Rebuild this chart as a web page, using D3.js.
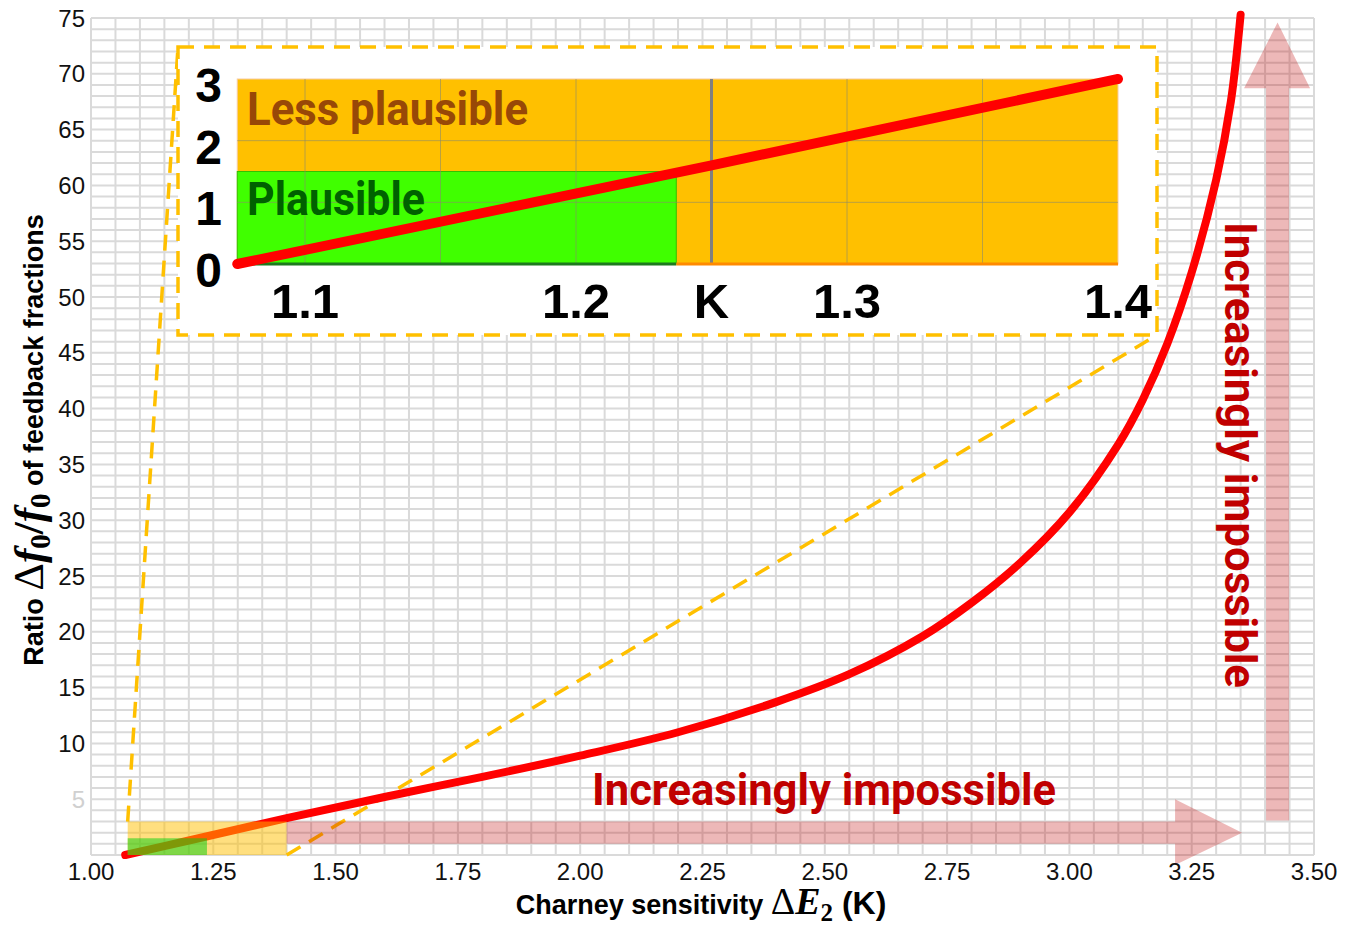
<!DOCTYPE html>
<html>
<head>
<meta charset="utf-8">
<script src="https://cdn.jsdelivr.net/npm/d3@7"></script>
<style>
  html, body { margin: 0; padding: 0; background: #fff; }
  svg { display: block; }
</style>
</head>
<body>
<svg id="chart" width="1354" height="930"></svg>
<script>
// ── Data ──────────────────────────────────────────────────────────────────────
const xTicks = [1.00, 1.25, 1.50, 1.75, 2.00, 2.25, 2.50, 2.75, 3.00, 3.25, 3.50];
const xTickLabels = ["1.00", "1.25", "1.50", "1.75", "2.00", "2.25", "2.50", "2.75", "3.00", "3.25", "3.50"];
const yTicks = [5, 10, 15, 20, 25, 30, 35, 40, 45, 50, 55, 60, 65, 70, 75];

// ratio curve vs Charney sensitivity
const curveX = [1.07, 1.20, 1.40, 1.60, 1.80, 2.00, 2.20, 2.40, 2.55, 2.70, 2.80, 2.90, 3.00, 3.10, 3.15, 3.20, 3.25, 3.30, 3.33, 3.35];
const curveY = [0.0, 1.3, 3.3, 5.2, 7.0, 8.9, 11.0, 13.7, 16.2, 19.6, 22.6, 26.2, 30.7, 36.8, 40.8, 45.8, 52.2, 60.5, 67.5, 75.3];

// zoomed inset
const insetX = [1.075, 1.25, 1.40];
const insetY = [0.0, 1.6, 3.0];
const insetTicks = [1.1, 1.2, 1.25, 1.3, 1.4];
const insetTickLabels = ["1.1", "1.2", "K", "1.3", "1.4"];
const insetYTicks = [0, 1, 2, 3];
const insetGridX = [1.1, 1.15, 1.2, 1.3, 1.35];
const insetGridY = [1, 2];

// plausibility zones [x0, x1, y0, y1]
const lessPlausible = [1.075, 1.40, 0, 3];
const plausible = [1.075, 1.237, 0, 1.5];
const kValue = 1.25;

// ── Layout ────────────────────────────────────────────────────────────────────
const svg = d3.select("#chart");
const x = d3.scaleLinear().domain([1, 3.5]).range([91, 1314]);
const y = d3.scaleLinear().domain([0, 75]).range([855, 18]);
const xi = d3.scaleLinear().domain([1.1, 1.4]).range([305, 1118]);
const yi = d3.scaleLinear().domain([0, 3]).range([264, 79]);
const insetBox = { x0: 178, y0: 47, x1: 1157, y1: 335 };

const SANS = "'Liberation Sans', Arial, sans-serif";
const SERIF = "'Liberation Serif', 'DejaVu Serif', serif";
const ORANGE = "#ffc000";
const DARKRED = "#c00000";

svg.append("rect").attr("width", 1354).attr("height", 930).attr("fill", "#fff");

// ── Grid ──────────────────────────────────────────────────────────────────────
const grid = svg.append("g").attr("stroke", "#dadada").attr("stroke-width", 2);
grid.selectAll("line.v").data(d3.range(0, 51).map(i => 1 + i * 0.05)).join("line")
  .attr("x1", d => x(d)).attr("x2", d => x(d)).attr("y1", y(0)).attr("y2", y(75));
grid.selectAll("line.h").data(d3.range(0, 76)).join("line")
  .attr("y1", d => y(d)).attr("y2", d => y(d)).attr("x1", x(1)).attr("x2", x(3.5));

// ── Connectors from zoom box to inset ─────────────────────────────────────────
const conn = svg.append("g").attr("stroke", ORANGE).attr("stroke-width", 3.5)
  .attr("stroke-dasharray", "16,10").attr("fill", "none");
conn.append("line")
  .attr("x1", x(lessPlausible[0])).attr("y1", y(lessPlausible[3]))
  .attr("x2", insetBox.x0).attr("y2", insetBox.y0);
conn.append("line")
  .attr("x1", x(lessPlausible[1])).attr("y1", y(lessPlausible[2]))
  .attr("x2", insetBox.x1).attr("y2", insetBox.y1);

// ── Main curve ────────────────────────────────────────────────────────────────
const curveData = curveX.map((v, i) => [v, curveY[i]]);
svg.append("path").datum(curveData)
  .attr("fill", "none").attr("stroke", "#ff0000").attr("stroke-width", 8)
  .attr("stroke-linecap", "round").attr("stroke-linejoin", "round")
  .attr("d", d3.line().x(d => x(d[0])).y(d => y(d[1])).curve(d3.curveCatmullRom.alpha(0.5)));

// ── Inset ─────────────────────────────────────────────────────────────────────
const inset = svg.append("g");
inset.append("rect")
  .attr("x", insetBox.x0).attr("y", insetBox.y0)
  .attr("width", insetBox.x1 - insetBox.x0).attr("height", insetBox.y1 - insetBox.y0)
  .attr("fill", "#fff").attr("stroke", ORANGE).attr("stroke-width", 3.5)
  .attr("stroke-dasharray", "16,10");

inset.append("rect")
  .attr("x", xi(lessPlausible[0])).attr("y", yi(lessPlausible[3]))
  .attr("width", xi(lessPlausible[1]) - xi(lessPlausible[0]))
  .attr("height", yi(lessPlausible[2]) - yi(lessPlausible[3]))
  .attr("fill", ORANGE).attr("stroke", "#f8cba0").attr("stroke-width", 1);
inset.append("rect")
  .attr("x", xi(plausible[0])).attr("y", yi(plausible[3]))
  .attr("width", xi(plausible[1]) - xi(plausible[0]))
  .attr("height", yi(plausible[2]) - yi(plausible[3]))
  .attr("fill", "#40ff00").attr("stroke", "#33c000").attr("stroke-width", 1);

const ig = inset.append("g").attr("stroke", "#8a8a6a").attr("stroke-opacity", 0.6).attr("stroke-width", 1);
ig.selectAll("line.v").data(insetGridX).join("line")
  .attr("x1", d => xi(d)).attr("x2", d => xi(d)).attr("y1", yi(0)).attr("y2", yi(3));
ig.selectAll("line.h").data(insetGridY).join("line")
  .attr("y1", d => yi(d)).attr("y2", d => yi(d))
  .attr("x1", xi(lessPlausible[0])).attr("x2", xi(lessPlausible[1]));

inset.append("line")
  .attr("x1", xi(kValue)).attr("x2", xi(kValue)).attr("y1", yi(0)).attr("y2", yi(3))
  .attr("stroke", "#808080").attr("stroke-width", 3);

inset.append("line")
  .attr("x1", xi(plausible[0])).attr("x2", xi(plausible[1])).attr("y1", yi(0)).attr("y2", yi(0))
  .attr("stroke", "#1d7a1d").attr("stroke-width", 3);
inset.append("line")
  .attr("x1", xi(plausible[1])).attr("x2", xi(lessPlausible[1])).attr("y1", yi(0)).attr("y2", yi(0))
  .attr("stroke", "#ff8a00").attr("stroke-width", 3);

inset.append("text").text("Less plausible")
  .attr("x", 247).attr("y", 125).attr("fill", "#984807")
  .attr("font-family", "Roboto, " + SANS).attr("font-weight", "bold").attr("font-size", 46)
  .attr("textLength", 281).attr("lengthAdjust", "spacingAndGlyphs");
inset.append("text").text("Plausible")
  .attr("x", 247).attr("y", 215).attr("fill", "#006100")
  .attr("font-family", "Roboto, " + SANS).attr("font-weight", "bold").attr("font-size", 46)
  .attr("textLength", 178).attr("lengthAdjust", "spacingAndGlyphs");

const insetLine = insetX.map((v, i) => [v, insetY[i]]);
inset.append("path").datum(insetLine)
  .attr("fill", "none").attr("stroke", "#ff0000").attr("stroke-width", 10)
  .attr("stroke-linecap", "round")
  .attr("d", d3.line().x(d => xi(d[0])).y(d => yi(d[1])).curve(d3.curveMonotoneX));

inset.selectAll("text.iy").data(insetYTicks).join("text")
  .attr("x", 222).attr("y", d => yi(d) + 23)
  .attr("text-anchor", "end").attr("font-family", SANS).attr("font-weight", "bold")
  .attr("font-size", 48).attr("fill", "#000").text(d => d);
inset.selectAll("text.ix").data(insetTicks).join("text")
  .attr("x", d => xi(d)).attr("y", 318)
  .attr("text-anchor", "middle").attr("font-family", SANS).attr("font-weight", "bold")
  .attr("font-size", 49).attr("fill", "#000").text((d, i) => insetTickLabels[i]);

// ── Zoom box overlays on the main plot ────────────────────────────────────────
svg.append("rect")
  .attr("x", x(lessPlausible[0])).attr("y", y(lessPlausible[3]))
  .attr("width", x(lessPlausible[1]) - x(lessPlausible[0]))
  .attr("height", y(lessPlausible[2]) - y(lessPlausible[3]))
  .attr("fill", ORANGE).attr("fill-opacity", 0.5);
svg.append("rect")
  .attr("x", x(plausible[0])).attr("y", y(plausible[3]))
  .attr("width", x(plausible[1]) - x(plausible[0]))
  .attr("height", y(plausible[2]) - y(plausible[3]))
  .attr("fill", "#00d010").attr("fill-opacity", 0.5);

// ── "Increasingly impossible" arrows ──────────────────────────────────────────
const hArrow = { x0: 1.40, xb: 3.216, tip: 3.353, lo: 1, hi: 3, headLo: -0.9, headHi: 5 };
const vArrow = { l: 3.402, r: 3.449, y0: 3.1, yb: 68.7, tip: 74.6, headL: 3.357, headR: 3.492 };
const arrowPts = [
  [[hArrow.x0, hArrow.hi], [hArrow.xb, hArrow.hi], [hArrow.xb, hArrow.headHi],
   [hArrow.tip, (hArrow.lo + hArrow.hi) / 2], [hArrow.xb, hArrow.headLo],
   [hArrow.xb, hArrow.lo], [hArrow.x0, hArrow.lo]],
  [[vArrow.l, vArrow.y0], [vArrow.l, vArrow.yb], [vArrow.headL, vArrow.yb],
   [(vArrow.l + vArrow.r) / 2, vArrow.tip], [vArrow.headR, vArrow.yb],
   [vArrow.r, vArrow.yb], [vArrow.r, vArrow.y0]]
];
svg.selectAll("polygon.arrow").data(arrowPts).join("polygon")
  .attr("points", d => d.map(p => `${x(p[0])},${y(p[1])}`).join(" "))
  .attr("fill", DARKRED).attr("fill-opacity", 0.28);

svg.append("text").text("Increasingly impossible")
  .attr("x", 592).attr("y", 805).attr("fill", DARKRED)
  .attr("font-family", "Roboto, " + SANS).attr("font-weight", "bold").attr("font-size", 45)
  .attr("textLength", 464).attr("lengthAdjust", "spacingAndGlyphs");
svg.append("text").text("Increasingly impossible")
  .attr("transform", "translate(1225,222) rotate(90)")
  .attr("fill", DARKRED)
  .attr("font-family", "Roboto, " + SANS).attr("font-weight", "bold").attr("font-size", 45)
  .attr("textLength", 466).attr("lengthAdjust", "spacingAndGlyphs");

// ── Axes labels ───────────────────────────────────────────────────────────────
svg.selectAll("text.xt").data(xTicks).join("text")
  .attr("x", d => x(d)).attr("y", 880).attr("text-anchor", "middle")
  .attr("font-family", SANS).attr("font-size", 24).attr("fill", "#111")
  .text((d, i) => xTickLabels[i]);
svg.selectAll("text.yt").data(yTicks).join("text")
  .attr("x", 85).attr("y", d => y(d) + 8.5).attr("text-anchor", "end")
  .attr("font-family", SANS).attr("font-size", 24)
  .attr("fill", d => d === 5 ? "#d0d0d0" : "#111")
  .text(d => d);

// x title
const xt = svg.append("text").attr("x", 701).attr("y", 914).attr("text-anchor", "middle")
  .attr("font-family", SANS).attr("font-weight", "bold").attr("font-size", 27).attr("fill", "#000");
xt.append("tspan").text("Charney sensitivity ");
xt.append("tspan").text("Δ").attr("font-family", SERIF).attr("font-size", 38).attr("font-weight", "normal");
xt.append("tspan").text("E").attr("font-family", SERIF).attr("font-style", "italic").attr("font-size", 38);
xt.append("tspan").text("2").attr("font-family", SERIF).attr("font-size", 25).attr("dy", 7);
xt.append("tspan").text(" (K)").attr("font-size", 32).attr("dy", -7);

// y title
const yt = svg.append("text").attr("transform", "translate(43,440) rotate(-90)")
  .attr("text-anchor", "middle")
  .attr("font-family", SANS).attr("font-weight", "bold").attr("font-size", 27).attr("fill", "#000");
yt.append("tspan").text("Ratio ");
yt.append("tspan").text("Δ").attr("font-family", SERIF).attr("font-size", 43).attr("font-weight", "normal");
yt.append("tspan").text("f").attr("font-family", SERIF).attr("font-style", "italic").attr("font-size", 43);
yt.append("tspan").text("0").attr("font-family", SERIF).attr("font-size", 29).attr("dy", 7);
yt.append("tspan").text("/").attr("font-family", SERIF).attr("font-size", 43).attr("dy", -7);
yt.append("tspan").text("f").attr("font-family", SERIF).attr("font-style", "italic").attr("font-size", 43);
yt.append("tspan").text("0").attr("font-family", SERIF).attr("font-size", 29).attr("dy", 7);
yt.append("tspan").text(" of feedback fractions").attr("dy", -7);
</script>
</body>
</html>
